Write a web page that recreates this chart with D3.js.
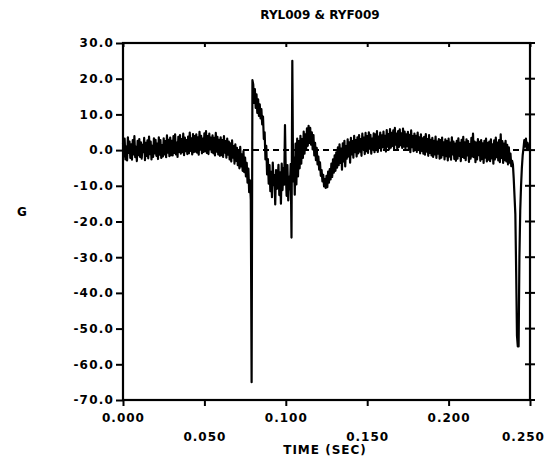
<!DOCTYPE html>
<html>
<head>
<meta charset="utf-8">
<script src="https://cdn.jsdelivr.net/npm/d3@7"></script>
<style>
  html, body { margin: 0; padding: 0; background: #fff; }
  svg { display: block; }
  text { font-family: "DejaVu Sans", "Liberation Sans", sans-serif; font-weight: bold; fill: #000; }
</style>
</head>
<body>
<svg id="chart" width="560" height="468"></svg>
<script>
// Acceleration trace (G), sampled every 0.5 ms from 0.000 to 0.250 s
const sampleInterval = 0.0005;
const accel = [
  2.1,-1.8,3.2,-2.6,1.0,-2.9,3.6,-0.8,2.4,-2.2,
  1.6,-2.7,2.8,-1.2,3.9,-2.0,0.9,-3.1,2.6,-1.4,
  3.1,-1.9,2.2,-2.4,1.5,-0.6,3.4,-2.8,2.0,-1.6,
  2.7,-2.3,3.8,-1.1,2.4,-2.6,1.2,-1.9,3.3,-0.9,
  2.9,-1.6,1.8,-2.5,3.6,-1.3,2.8,-2.2,1.4,-1.8,
  3.3,-1.2,2.5,-2.0,4.1,-0.7,2.9,-1.7,3.5,-1.4,
  2.6,-1.5,3.9,-0.8,4.4,-1.2,2.1,-1.9,3.7,-0.5,
  4.2,-1.0,3.1,-0.6,4.6,-1.4,3.5,-0.3,2.8,-1.1,
  3.8,-0.9,4.9,-0.2,3.3,-1.2,4.5,-0.6,3.9,-0.4,
  4.4,-0.7,3.6,-1.3,5.1,0.1,4.0,-0.9,3.2,-0.5,
  4.7,-0.3,5.3,-0.8,3.9,-1.1,4.6,0.2,3.5,-0.6,
  4.1,-0.9,3.4,-1.5,4.8,-0.4,3.7,-1.2,2.9,-1.6,
  3.6,-1.4,2.8,-1.9,3.9,-0.7,2.5,-2.1,3.2,-1.3,
  2.4,-2.6,1.9,-3.2,2.7,-2.1,1.1,-3.8,1.6,-3.0,
  0.6,-4.2,-0.5,-5.1,0.9,-4.6,-1.2,-5.8,-0.3,-6.2,
  -2.1,-7.4,-3.6,-9.1,-5.2,-11.8,-8.5,-14.0,-65.0,19.6,
  18.4,13.2,17.1,11.8,15.6,10.4,14.2,9.6,12.8,8.9,
  11.5,7.2,9.4,3.1,5.0,-2.6,1.2,-6.8,-2.5,-9.4,
  -4.2,-11.5,-6.1,-13.2,-3.5,-9.8,-7.0,-15.2,-5.6,-10.9,
  -8.3,-4.1,-12.6,-6.2,-15.0,-3.8,-11.2,-5.0,-9.7,7.0,
  -6.5,-12.8,-4.2,-14.1,-7.5,-11.0,-3.9,-24.5,25.0,-8.8,
  -2.0,-12.5,1.8,-9.6,3.2,-7.4,2.5,-5.1,4.0,-3.8,
  3.1,-2.2,5.2,-1.0,4.4,0.3,6.1,1.2,6.8,2.0,
  6.2,1.5,5.0,0.2,4.2,-1.5,2.0,-2.8,0.6,-4.0,
  -1.8,-5.5,-3.4,-7.2,-5.6,-8.8,-6.9,-10.2,-8.1,-10.6,
  -7.2,-10.4,-6.0,-9.1,-5.3,-8.2,-3.8,-7.5,-2.6,-6.3,
  -1.5,-5.8,-0.6,-4.9,0.8,-4.2,1.6,-3.6,0.4,-5.5,
  1.9,-3.2,2.6,-4.6,1.1,-2.4,3.0,-1.8,2.2,-3.5,
  3.4,-1.2,2.5,-2.1,4.0,-0.6,2.8,-1.8,3.6,-0.9,
  4.2,-0.4,3.1,-1.6,4.6,0.2,3.5,-1.1,4.8,-0.3,
  3.9,-0.8,5.0,0.4,4.3,-1.0,3.2,0.1,4.7,-0.6,
  4.4,0.3,5.3,-0.5,3.8,0.6,4.9,-0.2,4.1,0.8,
  5.2,0.5,4.0,-0.4,5.6,1.0,4.5,0.2,5.9,0.7,
  4.8,1.2,5.5,0.4,6.2,1.5,4.6,0.1,5.3,0.9,
  5.8,1.4,4.7,0.6,6.0,1.0,5.2,0.3,4.4,1.1,
  5.1,0.2,4.3,-0.6,5.5,0.8,3.9,-0.3,4.6,0.4,
  4.0,-0.5,4.9,0.3,3.6,-0.9,4.4,-0.2,3.3,-1.0,
  3.7,-1.3,4.5,-0.4,3.1,-1.6,4.2,-0.8,2.9,-1.5,
  3.4,-1.9,2.6,-1.2,3.8,-2.2,2.4,-1.0,3.1,-2.4,
  2.8,-2.1,3.5,-1.4,2.2,-2.6,3.0,-1.7,2.5,-2.9,
  3.2,-1.8,2.1,-2.7,3.6,-1.2,2.4,-2.5,1.8,-3.0,
  2.6,-2.4,3.3,-1.6,2.0,-3.1,2.9,-1.9,3.7,-2.2,
  2.2,-2.8,3.0,-1.5,2.5,-3.3,1.7,-2.4,3.4,-1.8,
  4.6,-2.0,2.4,-3.4,2.1,-2.6,3.1,-1.4,2.3,-3.0,
  2.8,-2.5,1.9,-3.6,2.6,-2.1,3.2,-3.2,2.0,-2.7,
  2.4,-3.1,3.0,-2.3,1.6,-3.8,2.7,-2.6,3.5,-2.0,
  2.1,-2.9,2.8,-3.4,4.4,-2.2,2.5,-3.6,1.8,-2.8,
  2.6,-3.2,1.5,-4.0,0.8,-3.5,-1.0,-4.5,-3.0,-4.0,
  -8.0,-13.0,-18.0,-34.0,-52.0,-55.0,-55.0,-30.0,-17.0,-10.0,
  -5.0,-1.5,0.5,2.8,1.0,3.2,0.4,2.0,0.6,1.5,
  1.0
];

const yTicks = [30, 20, 10, 0, -10, -20, -30, -40, -50, -60, -70];
const xTicks = [0, 0.05, 0.10, 0.15, 0.20, 0.25];
const titleText = "RYL009 & RYF009";
const xTitle = "TIME (SEC)";
const yTitle = "G";

const svg = d3.select("#chart");
const plotL = 123, plotR = 530, plotT = 43, plotB = 400;

const x = d3.scaleLinear().domain([0, 0.25]).range([plotL, plotR]);
const y = d3.scaleLinear().domain([-70, 30]).range([plotB, plotT]);

const points = accel.map((v, i) => [i * sampleInterval, v]);

// zero reference line
svg.append("line")
  .attr("x1", x(0)).attr("x2", x(0.25))
  .attr("y1", y(0)).attr("y2", y(0))
  .attr("stroke", "#000").attr("stroke-width", 2)
  .attr("stroke-dasharray", "6,4");

// trace
svg.append("path")
  .datum(points)
  .attr("fill", "none")
  .attr("stroke", "#000")
  .attr("stroke-width", 2.2)
  .attr("stroke-linejoin", "round")
  .attr("d", d3.line().x(d => x(d[0])).y(d => y(d[1])));

// frame
svg.append("rect")
  .attr("x", plotL).attr("y", plotT)
  .attr("width", plotR - plotL).attr("height", plotB - plotT)
  .attr("fill", "none").attr("stroke", "#000").attr("stroke-width", 2.2);

// left axis
const gl = svg.append("g")
  .attr("transform", `translate(${plotL},0)`)
  .call(d3.axisLeft(y).tickValues(yTicks).tickSize(7).tickPadding(2)
    .tickFormat(d => d.toFixed(1)));
gl.select(".domain").remove();
gl.selectAll("line").attr("stroke-width", 2);
gl.selectAll("text").attr("font-size", 12).attr("letter-spacing", 1.2)
  .style("font-family", '"DejaVu Sans", sans-serif').style("font-weight", "bold");

// bottom axis with staggered labels
const gb = svg.append("g")
  .attr("transform", `translate(0,${plotB})`)
  .call(d3.axisBottom(x).tickValues(xTicks).tickSize(6)
    .tickFormat(d => d.toFixed(3)));
gb.select(".domain").remove();
gb.selectAll("line").attr("stroke-width", 2);
gb.selectAll("text")
  .attr("x", (d, i) => i === xTicks.length - 1 ? -7 : 0)
  .attr("y", (d, i) => i % 2 ? 37 : 18)
  .attr("dy", "0.35em")
  .attr("font-size", 12).attr("letter-spacing", 1)
  .style("font-family", '"DejaVu Sans", sans-serif').style("font-weight", "bold");

// top axis ticks (inward)
const gt = svg.append("g")
  .attr("transform", `translate(0,${plotT})`)
  .call(d3.axisTop(x).tickValues(xTicks).tickSize(-4).tickFormat(""));
gt.select(".domain").remove();
gt.selectAll("line").attr("stroke-width", 2);

// right axis ticks (crossing)
svg.append("g").selectAll("line")
  .data(yTicks)
  .join("line")
  .attr("x1", plotR - 5).attr("x2", plotR + 5)
  .attr("y1", d => y(d)).attr("y2", d => y(d))
  .attr("stroke", "#000").attr("stroke-width", 2);

// titles
svg.append("text")
  .attr("x", 320).attr("y", 15).attr("dy", "0.35em")
  .attr("text-anchor", "middle").attr("font-size", 12)
  .text(titleText);

svg.append("text")
  .attr("x", 325).attr("y", 450).attr("dy", "0.35em")
  .attr("text-anchor", "middle").attr("font-size", 12).attr("letter-spacing", 1)
  .text(xTitle);

svg.append("text")
  .attr("x", 22).attr("y", 212).attr("dy", "0.35em")
  .attr("text-anchor", "middle").attr("font-size", 12)
  .text(yTitle);
</script>
</body>
</html>
